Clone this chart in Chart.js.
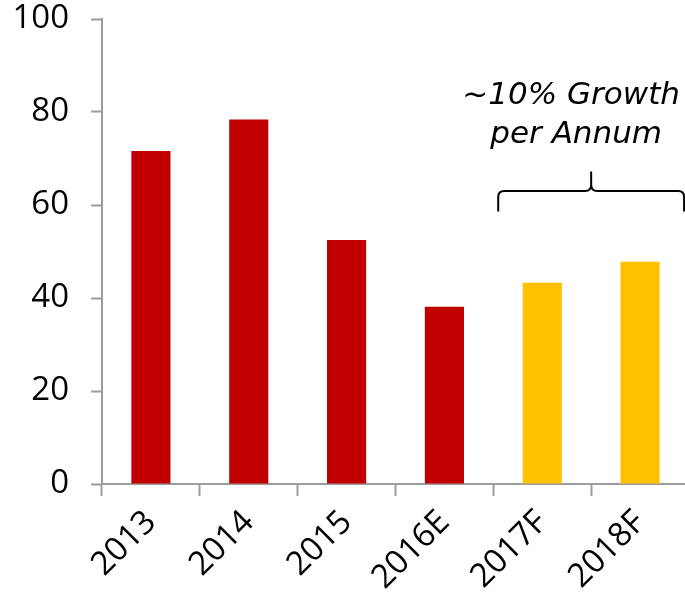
<!DOCTYPE html>
<html>
<head>
<meta charset="utf-8">
<script src="https://cdn.jsdelivr.net/npm/chart.js@4/dist/chart.umd.min.js"></script>
<style>
  html, body { margin: 0; padding: 0; background: #fff; overflow: hidden; }
</style>
</head>
<body>
<canvas id="myChart" width="690" height="604"></canvas>
<script>
const years = ["2013", "2014", "2015", "2016E", "2017F", "2018F"];
const values = [71.6, 78.4, 52.5, 38.1, 43.3, 47.8];
const yTicks = [0, 20, 40, 60, 80, 100];
const noteLines = ["~10% Growth", "per Annum"];

const RED = "#C00000";
const GOLD = "#FFC000";
const AXIS = "#9c9c9c";
const tickFont = { family: "'Open Sans', sans-serif", size: 33 };

// forecast years (F) get the gold colour
const barColors = years.map((y) => (y.endsWith("F") ? GOLD : RED));

const growthNote = {
  id: "growthNote",
  afterDraw(chart) {
    const { ctx, scales: { x, y } } = chart;
    const p4 = x.getPixelForValue(4);
    const p5 = x.getPixelForValue(5);
    const w = p5 - p4;
    const left = p4 - w * 0.45;
    const right = p5 + w * 0.45;
    const mid = (p4 + p5) / 2;
    const yLine = y.getPixelForValue(63);
    const yEnd = y.getPixelForValue(58.6);
    const yTip = y.getPixelForValue(67.2);
    const r = 6;

    ctx.save();
    ctx.strokeStyle = "#000";
    ctx.lineWidth = 2;
    ctx.beginPath();
    ctx.moveTo(left, yEnd);
    ctx.lineTo(left, yLine + r);
    ctx.quadraticCurveTo(left, yLine, left + r, yLine);
    ctx.lineTo(mid - r, yLine);
    ctx.quadraticCurveTo(mid, yLine, mid, yLine - r);
    ctx.lineTo(mid, yTip);
    ctx.moveTo(mid, yLine - r);
    ctx.quadraticCurveTo(mid, yLine, mid + r, yLine);
    ctx.lineTo(right - r, yLine);
    ctx.quadraticCurveTo(right, yLine, right, yLine + r);
    ctx.lineTo(right, yEnd);
    ctx.stroke();

    ctx.fillStyle = "#000";
    ctx.font = "italic 31px 'DejaVu Sans', sans-serif";
    ctx.textAlign = "center";
    ctx.textBaseline = "alphabetic";
    ctx.fillText(noteLines[0], mid - 20, yTip - 68);
    ctx.fillText(noteLines[1], mid - 15, yTip - 29);
    ctx.restore();
  }
};

const ctx = document.getElementById("myChart");
const myChart = new Chart(ctx, {
  type: "bar",
  data: {
    labels: years,
    datasets: [
      {
        data: values,
        backgroundColor: barColors,
        borderWidth: 0,
        barPercentage: 0.4,
        categoryPercentage: 1
      }
    ]
  },
  options: {
    responsive: false,
    animation: false,
    layout: { padding: { top: 19, right: 1, left: 0, bottom: 0 } },
    plugins: {
      legend: { display: false },
      tooltip: { enabled: false }
    },
    scales: {
      x: {
        afterFit: (s) => { s.height = 120; },
        border: { color: AXIS, width: 2 },
        grid: {
          drawOnChartArea: false,
          drawTicks: true,
          tickLength: 12,
          tickWidth: 2,
          tickColor: AXIS,
          offset: true
        },
        ticks: {
          color: "#000",
          font: tickFont,
          maxRotation: 45,
          minRotation: 45,
          padding: 7,
          autoSkip: false
        }
      },
      y: {
        min: yTicks[0],
        max: yTicks[yTicks.length - 1],
        afterFit: (s) => {
          s.width = 102;
          s.paddingTop = 0;
          s.paddingBottom = 0;
        },
        afterBuildTicks: (s) => { s.ticks = yTicks.map((v) => ({ value: v })); },
        border: { color: AXIS, width: 2 },
        grid: {
          drawOnChartArea: false,
          drawTicks: true,
          tickLength: 11,
          tickWidth: 2,
          tickColor: AXIS
        },
        ticks: {
          color: "#000",
          font: tickFont,
          padding: 22
        }
      }
    }
  },
  plugins: [growthNote]
});
</script>
</body>
</html>
